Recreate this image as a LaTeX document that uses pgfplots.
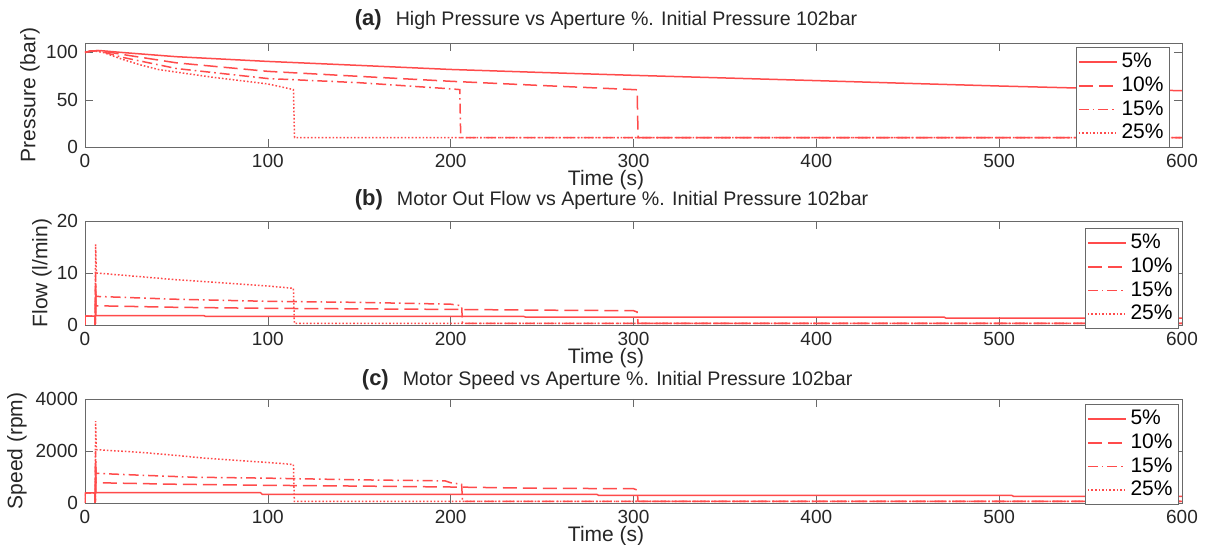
\documentclass[border=0pt]{standalone}
\usepackage{fontspec}
\setmainfont{Liberation Sans}
\usepackage{pgfplots}
\pgfplotsset{compat=1.18}

\definecolor{lr}{RGB}{255,75,75}
\definecolor{ax}{RGB}{105,105,105}

\pgfplotsset{
  mystyle/.style={
    width=548.5pt, height=52pt, scale only axis,
    xmin=0, xmax=600, xtick={0,100,...,600},
    axis line style={ax}, tick style={ax}, major tick length=4pt,
    tick align=inside,
    ticklabel style={font=\fontsize{9.5}{10}\selectfont, text=black!85},
    /pgf/number format/assume math mode=true,
    /pgf/number format/1000 sep={},
    scaled y ticks=false,
    xlabel={Time (s)},
    xlabel style={at={(axis description cs:0.475,0)}, anchor=center, yshift=-16.5pt, font=\fontsize{10.5}{11}\selectfont, text=black!85},
    ylabel style={font=\fontsize{10.5}{11}\selectfont, anchor=center, text=black!85},
    legend style={anchor=north east, draw=ax, font=\fontsize{10.5}{11}\selectfont, inner sep=1pt, row sep=-1pt, cells={anchor=west}},
    legend image code/.code={\draw[##1] (0pt,0pt) -- (19pt,0pt);},
    title style={font=\fontsize{9.8}{11}\selectfont, anchor=center, text=black!85},
  },
  s5/.style={lr, line width=0.75pt, solid},
  s10/.style={lr, line width=0.75pt, dash pattern=on 7pt off 3pt},
  s15/.style={lr, line width=0.75pt, dash pattern=on 5pt off 2pt on 0.8pt off 2pt},
  s25/.style={lr, line width=0.75pt, dash pattern=on 0.8pt off 1pt},
}

\begin{document}
\begin{tikzpicture}
% ---------------- (a) ----------------
\begin{axis}[mystyle, at={(42.5pt,199pt)}, anchor=south west,
  ymin=0, ymax=110, ytick={0,50,100},
  ylabel={Pressure (bar)}, ylabel style={at={(axis description cs:-0.0501,0.5)}},
  title={{\fontsize{11}{12}\selectfont\bfseries (a)}\hspace{7pt}High Pressure vs Aperture \%. Initial Pressure 102bar},
  title style={at={(axis description cs:0.475,1)}, yshift=5.5pt},
  legend style={at={(rel axis cs:1,1)}, xshift=-6pt, yshift=-2pt},
]
\addplot[s5] coordinates {(0,100) (3,101.5) (8,102) (20,100) (50,95.5) (100,90.5) (150,86.3) (200,82) (250,78.8) (300,75.8) (350,73) (400,70.2) (450,67.3) (500,64.5) (550,62) (600,59.5)};
\addlegendentry{5\%}
\addplot[s10] coordinates {(0,100) (3,101.5) (8,102) (20,98) (50,89) (100,80) (150,74.7) (200,69.5) (250,65) (300,60.7) (302,60.5) (302.5,10) (600,10)};
\addlegendentry{10\%}
\addplot[s15] coordinates {(0,100) (3,101.5) (8,101.5) (20,95) (50,83) (100,72.4) (150,68) (200,61.5) (205,60.7) (205.5,10) (600,10)};
\addlegendentry{15\%}
\addplot[s25] coordinates {(0,100) (5,101.5) (10,100) (20,93) (30,87) (40,82) (50,79.2) (70,73.7) (100,66.7) (114,60.7) (114.6,10) (600,10)};
\addlegendentry{25\%}
\end{axis}

% ---------------- (b) ----------------
\begin{axis}[mystyle, at={(42.5pt,110pt)}, anchor=south west,
  ymin=0, ymax=20, ytick={0,10,20},
  ylabel={Flow (l/min)}, ylabel style={at={(axis description cs:-0.0392,0.5)}},
  title={{\fontsize{11}{12}\selectfont\bfseries (b)}\hspace{7pt}Motor Out Flow vs Aperture \%. Initial Pressure 102bar},
  title style={at={(axis description cs:0.48,1)}, yshift=4.5pt},
  legend style={at={(rel axis cs:1,1)}, xshift=-1.5pt, yshift=-3.5pt},
]
\addplot[s5] coordinates {(0,0) (0.1,1.7) (5.5,1.7) (5.6,0) (5.8,7) (6,1.8) (65,1.8) (66,1.65) (240,1.65) (241,1.5) (470,1.5) (471,1.3) (600,1.3)};
\addlegendentry{5\%}
\addplot[s10] coordinates {(0,0) (0.1,1.7) (5.5,1.7) (5.6,0) (5.8,8) (6,3.7) (50,3.4) (100,3.2) (150,3.1) (200,3.0) (250,2.85) (300,2.75) (302,2.5) (302.5,0.3) (600,0.3)};
\addlegendentry{10\%}
\addplot[s15] coordinates {(0,0) (0.1,1.7) (5.5,1.7) (5.6,0) (5.8,10) (6,5.5) (50,4.95) (100,4.55) (150,4.35) (200,4.0) (206,3.7) (206.5,0.3) (600,0.3)};
\addlegendentry{15\%}
\addplot[s25] coordinates {(0,0) (0.1,1.7) (5.5,1.7) (5.6,0) (5.8,15.5) (6.2,10) (30,9.3) (50,8.7) (80,8.0) (100,7.5) (114,7.05) (114.5,0.3) (600,0.3)};
\addlegendentry{25\%}
\end{axis}

% ---------------- (c) ----------------
\begin{axis}[mystyle, at={(42.5pt,21pt)}, anchor=south west,
  ymin=0, ymax=4000, ytick={0,2000,4000},
  ylabel={Speed (rpm)}, ylabel style={at={(axis description cs:-0.062,0.5)}},
  title={{\fontsize{11}{12}\selectfont\bfseries (c)}\hspace{7pt}Motor Speed vs Aperture \%. Initial Pressure 102bar},
  title style={at={(axis description cs:0.476,1)}, yshift=3.5pt},
  legend style={at={(rel axis cs:1,1)}, xshift=-1.5pt, yshift=-2.5pt},
]
\addplot[s5] coordinates {(0,0) (0.1,390) (5.5,390) (5.6,0) (5.8,1400) (6,400) (96,400) (97,330) (280,330) (281,290) (507,290) (508,250) (600,250)};
\addlegendentry{5\%}
\addplot[s10] coordinates {(0,0) (0.1,390) (5.5,390) (5.6,0) (5.8,1600) (6,780) (50,720) (100,680) (150,650) (200,615) (250,565) (300,550) (302,500) (302.5,60) (600,60)};
\addlegendentry{10\%}
\addplot[s15] coordinates {(0,0) (0.1,390) (5.5,390) (5.6,0) (5.8,2000) (6,1140) (30,1070) (60,990) (100,955) (150,890) (197,850) (200,780) (206,720) (206.5,60) (600,60)};
\addlegendentry{15\%}
\addplot[s25] coordinates {(0,0) (0.1,390) (5.5,390) (5.6,0) (5.8,3150) (6.2,2050) (30,1950) (50,1830) (66,1720) (100,1560) (114,1480) (114.5,60) (600,60)};
\addlegendentry{25\%}
\end{axis}
\pgfresetboundingbox
\path[use as bounding box] (0,0) rectangle (603pt,272.5pt);
\end{tikzpicture}
\end{document}
